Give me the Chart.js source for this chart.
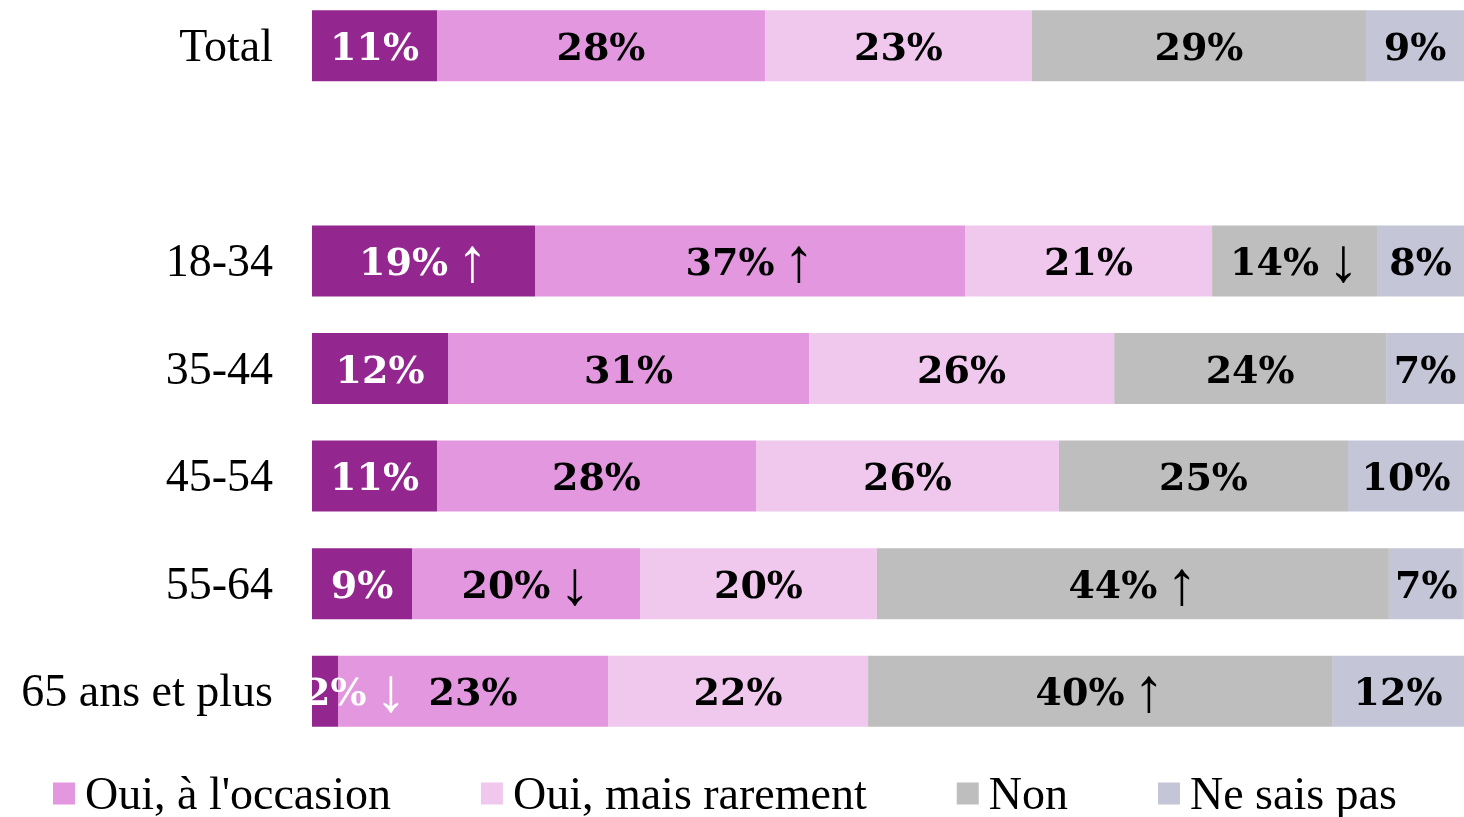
<!DOCTYPE html>
<html><head><meta charset="utf-8">
<script src="https://cdn.jsdelivr.net/npm/chart.js@4.4.1/dist/chart.umd.min.js"></script>
<style>
html,body{margin:0;padding:0;background:#fff;overflow:hidden;width:1464px;height:817px}
#wrap{position:absolute;left:0;top:-8px;width:1464px;height:825px}
</style>
</head><body>
<div id="wrap"><canvas id="c"></canvas></div>
<script>
const categories = ['Total', '', '18-34', '35-44', '45-54', '55-64', '65 ans et plus'];
const seriesNames = ['Oui, souvent', "Oui, à l'occasion", 'Oui, mais rarement', 'Non', 'Ne sais pas'];
const seriesColors = ['#93278F', '#E297DF', '#F0C8EE', '#BEBEBE', '#C5C5D8'];
const labelColors = ['#FFFFFF', '#000000', '#000000', '#000000', '#000000'];

const ouiSouvent   = [10.85, null, 19.36, 11.81, 10.85, 8.68, 2.26];
const ouiOccasion  = [28.47, null, 37.33, 31.34, 27.69, 19.79, 23.44];
const ouiRarement  = [23.18, null, 21.44, 26.48, 26.30, 20.57, 22.57];
const non          = [28.99, null, 14.32, 23.61, 25.09, 44.44, 40.28];
const neSaisPas    = [8.51, null, 7.55, 6.77, 10.07, 6.51, 11.46];

const txtOuiSouvent  = ['11%', '', '19%', '12%', '11%', '9%', '2%'];
const txtOuiOccasion = ['28%', '', '37%', '31%', '28%', '20%', '23%'];
const txtOuiRarement = ['23%', '', '21%', '26%', '26%', '20%', '22%'];
const txtNon         = ['29%', '', '14%', '24%', '25%', '44%', '40%'];
const txtNeSaisPas   = ['9%', '', '8%', '7%', '10%', '7%', '12%'];

const arrOuiSouvent  = ['', '', '↑', '', '', '', '↓'];
const arrOuiOccasion = ['', '', '↑', '', '', '↓', ''];
const arrOuiRarement = ['', '', '', '', '', '', ''];
const arrNon         = ['', '', '↓', '', '', '↑', '↑'];
const arrNeSaisPas   = ['', '', '', '', '', '', ''];

const values = [ouiSouvent, ouiOccasion, ouiRarement, non, neSaisPas];
const texts = [txtOuiSouvent, txtOuiOccasion, txtOuiRarement, txtNon, txtNeSaisPas];
const arrows = [arrOuiSouvent, arrOuiOccasion, arrOuiRarement, arrNon, arrNeSaisPas];

const NUM_FONT = "bold 38px 'DejaVu Serif'";
const ARROW_FONT = "62px 'Liberation Serif'";

const labelPlugin = {
  id: 'barLabels',
  afterDatasetsDraw(chart) {
    const ctx = chart.ctx, ca = chart.chartArea;
    ctx.save();
    ctx.beginPath();
    ctx.rect(ca.left, ca.top, ca.right - ca.left, ca.bottom - ca.top);
    ctx.clip();
    ctx.textBaseline = 'alphabetic';
    ctx.textAlign = 'left';
    chart.data.datasets.forEach((ds, di) => {
      const meta = chart.getDatasetMeta(di);
      meta.data.forEach((bar, i) => {
        const t = ds.valueTexts[i];
        if (!t) return;
        const a = ds.arrowTexts[i];
        ctx.font = NUM_FONT;
        const w1 = ctx.measureText(t).width;
        ctx.font = ARROW_FONT;
        const w2 = a ? ctx.measureText(a).width : 0;
        const gap = a ? 9 : 0;
        const total = w1 + gap + w2;
        const cx = (bar.x + bar.base) / 2;
        let left = cx - total / 2;
        if (left < ca.left - 8) left = ca.left - 8;
        const y = bar.y + 14;
        ctx.fillStyle = ds.labelColor;
        ctx.font = NUM_FONT;
        ctx.fillText(t, left, y);
        if (a) {
          ctx.font = ARROW_FONT;
          ctx.fillText(a, left + w1 + gap, y + 6);
        }
      });
    });
    ctx.restore();
  }
};

const legendPlugin = {
  id: 'customLegend',
  afterDraw(chart) {
    const ctx = chart.ctx;
    const yc = 801.5;
    let x = 53;
    ctx.save();
    ctx.font = "46px 'Liberation Serif'";
    ctx.textBaseline = 'alphabetic';
    ctx.textAlign = 'left';
    chart.data.datasets.forEach((ds, di) => {
      if (di === 0) return;
      ctx.fillStyle = ds.backgroundColor;
      ctx.fillRect(x, yc - 11, 22, 22);
      ctx.fillStyle = '#000';
      ctx.fillText(ds.label, x + 32, yc + 15);
      x += 32 + ctx.measureText(ds.label).width + 90;
    });
    ctx.restore();
  }
};

new Chart(document.getElementById('c'), {
  type: 'bar',
  data: {
    labels: categories,
    datasets: values.map((v, i) => ({
      label: seriesNames[i],
      data: v,
      backgroundColor: seriesColors[i],
      borderWidth: 0,
      categoryPercentage: 1,
      barPercentage: 0.66,
      valueTexts: texts[i],
      arrowTexts: arrows[i],
      labelColor: labelColors[i]
    }))
  },
  options: {
    indexAxis: 'y',
    responsive: true,
    maintainAspectRatio: false,
    devicePixelRatio: 1,
    animation: false,
    layout: { padding: { left: 0, right: 0, top: 0, bottom: 72 } },
    plugins: { legend: { display: false }, tooltip: { enabled: false } },
    scales: {
      x: { stacked: true, min: 0, max: 100, display: false },
      y: {
        stacked: true,
        grid: { display: false, drawTicks: false, tickLength: 0 },
        border: { display: false },
        ticks: { color: '#000', padding: 39, labelOffset: 3, font: { family: "'Liberation Serif'", size: 46 } },
        afterFit(scale) {
          scale.width = 312;
          scale.paddingTop = 0;
          scale.paddingBottom = 0;
        }
      }
    }
  },
  plugins: [labelPlugin, legendPlugin]
});
</script>
</body></html>
